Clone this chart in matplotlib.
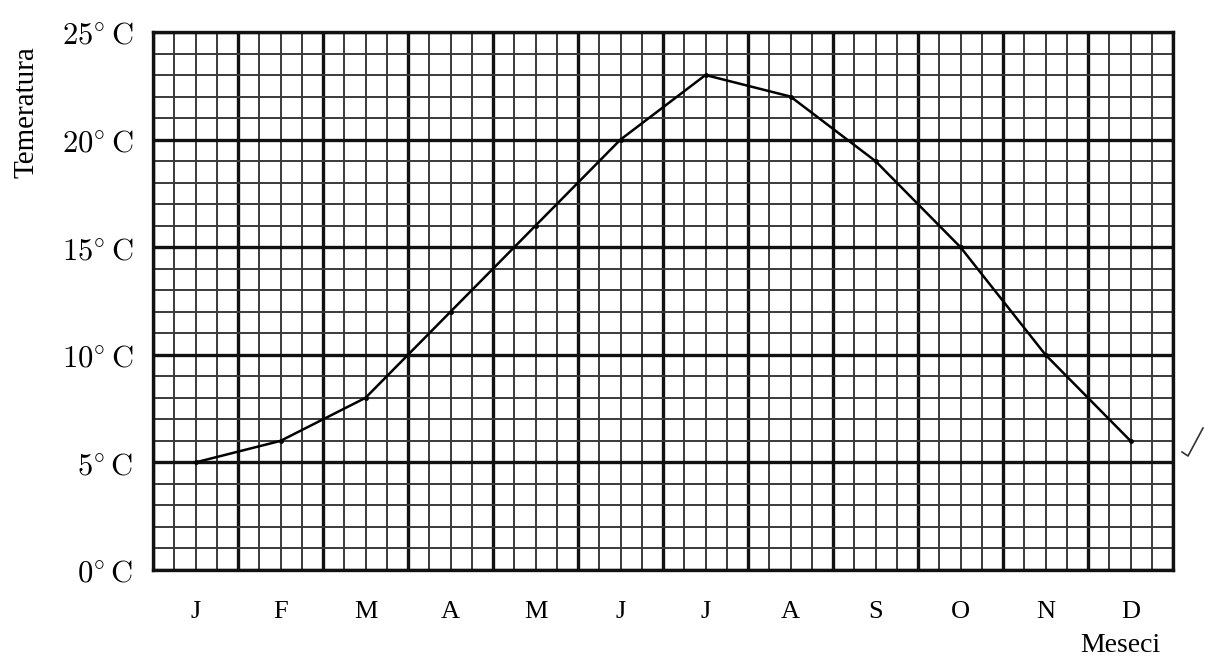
import matplotlib
matplotlib.use("Agg")
import matplotlib.pyplot as plt
import numpy as np
from matplotlib.lines import Line2D

months = ["J", "F", "M", "A", "M", "J", "J", "A", "S", "O", "N", "D"]
temps = [5, 6, 8, 12, 16, 20, 23, 22, 19, 15, 10, 6]
y_ticks = [0, 5, 10, 15, 20, 25]
y_tick_labels = [r"$%d^{\circ}\,\mathrm{C}$" % v for v in y_ticks]

plt.rcParams["mathtext.fontset"] = "cm"
plt.rcParams["font.family"] = "DejaVu Serif"

fig = plt.figure(figsize=(12.05, 6.58), dpi=100)
ax = fig.add_axes([153/1205, 88/658, (1173-153)/1205, (570-32)/658])

n = len(months)
ax.set_xlim(0, n)
ax.set_ylim(0, 25)

# grid
for xv in np.arange(0, n + 0.001, 0.25):
    major = abs(xv - round(xv)) < 1e-9
    ax.axvline(xv, color="#111111" if major else "#3a3a3a",
               lw=2.4 if major else 1.4, zorder=1)
for yv in range(0, 26):
    major = yv % 5 == 0
    ax.axhline(yv, color="#111111" if major else "#3a3a3a",
               lw=2.4 if major else 1.4, zorder=1)

xs = np.arange(n) + 0.5
ax.plot(xs, temps, color="black", lw=1.8, marker="o", markersize=2.5, zorder=3)

ax.set_xticks(xs)
ax.set_xticklabels(months)
ax.set_yticks(y_ticks)
ax.set_yticklabels(y_tick_labels, fontsize=22)
ax.tick_params(axis="x", length=0, pad=22)
ax.tick_params(axis="y", length=0, pad=14)
for lab in ax.get_xticklabels():
    lab.set_fontfamily("Liberation Serif")
    lab.set_fontsize(19)
for sp in ax.spines.values():
    sp.set_linewidth(2.4)
    sp.set_color("#111111")

fig.text(26/1205, 1 - 112/658, "Temeratura", rotation=90, ha="center", va="center",
         fontsize=21, family="Liberation Serif")
fig.text(1120/1205, 1 - 646/658, "Meseci", ha="center", va="center",
         fontsize=20, family="Liberation Serif")

# hand-drawn check mark at right
fig.add_artist(Line2D([1182/1205, 1188/1205, 1203/1205],
                      [1 - 452/658, 1 - 456/658, 1 - 428/658],
                      transform=fig.transFigure, color="#333333", lw=1.2))

fig.savefig("out.png", dpi=100, facecolor="white")
